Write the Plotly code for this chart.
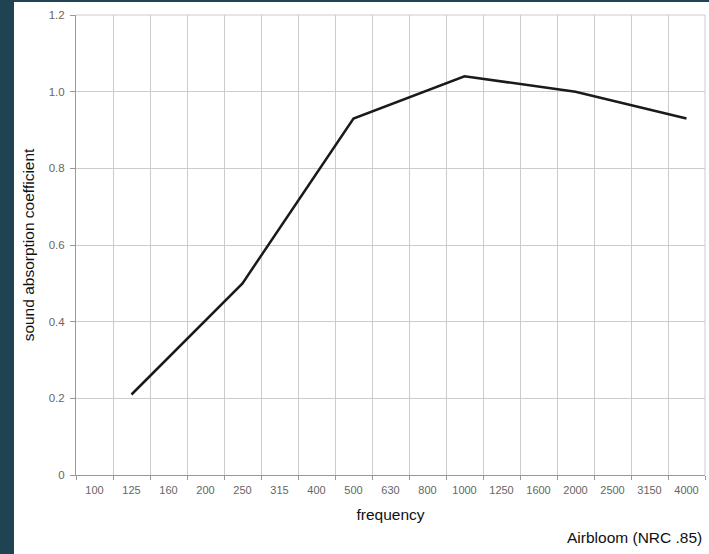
import plotly.graph_objects as go

categories = ["100", "125", "160", "200", "250", "315", "400", "500", "630",
              "800", "1000", "1250", "1600", "2000", "2500", "3150", "4000"]
measured_freq = ["125", "250", "500", "1000", "2000", "4000"]
absorption = [0.21, 0.50, 0.93, 1.04, 1.00, 0.93]
y_ticks = [0, 0.2, 0.4, 0.6, 0.8, 1.0, 1.2]
y_tick_text = ["0", "0.2", "0.4", "0.6", "0.8", "1.0", "1.2"]

W, H = 709, 554
L, R, T, B = 76, 4, 15, 79
pw, ph = W - L - R, H - T - B

fig = go.Figure()
fig.add_trace(go.Scatter(x=measured_freq, y=absorption, mode="lines",
                         line=dict(color="#1a1a1a", width=2.5),
                         showlegend=False, hoverinfo="x+y"))

font = "Liberation Sans, Arial, Helvetica, sans-serif"
dark = "#1f4352"
fig.update_layout(
    width=W, height=H,
    margin=dict(l=L, r=R, t=T, b=B),
    paper_bgcolor="white", plot_bgcolor="white",
    font=dict(family=font, color="#000"),
    xaxis=dict(type="category", categoryorder="array", categoryarray=categories,
               range=[-0.5, len(categories) - 0.5],
               tickson="boundaries", ticks="outside", ticklen=4, tickcolor="#999",
               showgrid=True, gridcolor="#cccccc", gridwidth=1,
               showline=True, linecolor="#999", linewidth=1,
               tickfont=dict(size=11, color="#666"), ticklabelstandoff=5,
               title=dict(text="frequency", font=dict(size=15.5, color="#111"), standoff=13)),
    yaxis=dict(range=[0, 1.2], tickvals=y_ticks, ticktext=y_tick_text,
               ticks="outside", ticklen=5, tickcolor="#999",
               showgrid=True, gridcolor="#cccccc", gridwidth=1,
               showline=True, linecolor="#999", linewidth=1, zeroline=False,
               tickfont=dict(size=11.5, color="#666"), ticklabelstandoff=3,
               title=dict(text="sound absorption coefficient", font=dict(size=15.5, color="#111"), standoff=10)),
    shapes=[
        dict(type="rect", xref="paper", yref="paper", layer="below",
             x0=-L / pw, x1=(14 - L) / pw, y0=-B / ph, y1=1 + T / ph,
             fillcolor=dark, line=dict(width=0)),
        dict(type="rect", xref="paper", yref="paper", layer="below",
             x0=-L / pw, x1=1 + R / pw, y0=1 + (T - 2) / ph, y1=1 + T / ph,
             fillcolor=dark, line=dict(width=0)),
        dict(type="line", xref="paper", yref="paper", x0=0, x1=1, y0=1, y1=1,
             line=dict(color="#cccccc", width=1)),
        dict(type="line", xref="paper", yref="paper", x0=1, x1=1, y0=0, y1=1,
             line=dict(color="#cccccc", width=1)),
    ],
    annotations=[dict(text="Airbloom (NRC .85)", xref="paper", yref="paper",
                      x=(704 - L) / pw, y=-(537 - T - ph) / ph, xanchor="right", yanchor="middle",
                      showarrow=False, font=dict(size=15.5, color="#111"))],
)
fig.write_html("out.html", config={"displayModeBar": False},
               post_script="document.body.style.margin='0';document.body.style.overflow='hidden';")
